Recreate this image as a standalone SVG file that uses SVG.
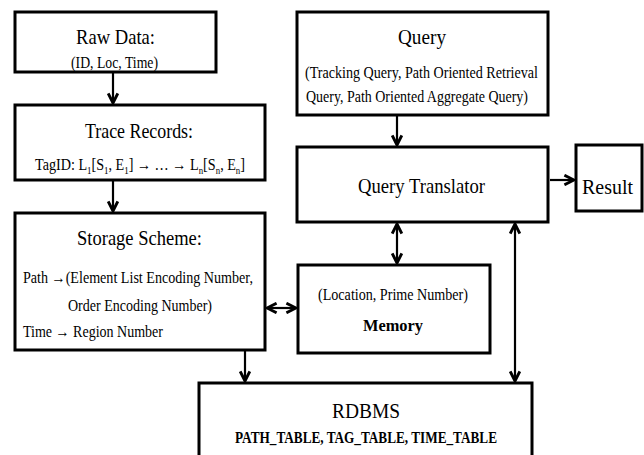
<svg xmlns="http://www.w3.org/2000/svg" width="644" height="455" viewBox="0 0 644 455">
<defs>
<style>
.box{fill:#fff;stroke:#000;stroke-width:3}
.big{font-size:22px}
.sm{font-size:16px}
.b{font-weight:bold}
.c{stroke:#000;stroke-width:2.2;fill:none}
</style>
<marker id="ah" markerUnits="userSpaceOnUse" markerWidth="12" markerHeight="12" viewBox="0 0 10 10" refX="9" refY="5" orient="auto-start-reverse">
<path d="M1,1 L9,5 L1,9" fill="none" stroke="#000" stroke-width="2.4"/>
</marker>
</defs>
<rect width="644" height="455" fill="#fff"/>
<g id="connectors">
<line class="c" x1="113" y1="73" x2="113" y2="103" marker-end="url(#ah)"/>
<line class="c" x1="113" y1="181" x2="113" y2="211" marker-end="url(#ah)"/>
<line class="c" x1="245" y1="351" x2="245" y2="381" marker-end="url(#ah)"/>
<line class="c" x1="267" y1="308" x2="296" y2="308" marker-start="url(#ah)" marker-end="url(#ah)"/>
<line class="c" x1="397" y1="116" x2="397" y2="145" marker-end="url(#ah)"/>
<line class="c" x1="397" y1="224" x2="397" y2="263" marker-start="url(#ah)" marker-end="url(#ah)"/>
<line class="c" x1="515" y1="224" x2="515" y2="381" marker-start="url(#ah)" marker-end="url(#ah)"/>
<line class="c" x1="550" y1="180" x2="574" y2="180" marker-end="url(#ah)"/>
</g>
<g font-family="Times New Roman, Liberation Serif, Tinos, DejaVu Serif, Noto Serif, serif" fill="#000">
<g id="raw">
<rect class="box" x="15" y="12" width="201" height="60"/>
<text class="big" x="76" y="44" textLength="79" lengthAdjust="spacingAndGlyphs">Raw Data:</text>
<text class="sm" x="71" y="68" textLength="87" lengthAdjust="spacingAndGlyphs">(ID, Loc, Time)</text>
</g>
<g id="trace">
<rect class="box" x="15" y="105" width="250" height="75"/>
<text class="big" x="85" y="138" textLength="108" lengthAdjust="spacingAndGlyphs">Trace Records:</text>
<text class="sm" x="35" y="170" textLength="210" lengthAdjust="spacingAndGlyphs">TagID: L<tspan font-size="10" baseline-shift="-4">1</tspan>[S<tspan font-size="10" baseline-shift="-4">1</tspan>, E<tspan font-size="10" baseline-shift="-4">1</tspan>] → … → L<tspan font-size="10" baseline-shift="-4">n</tspan>[S<tspan font-size="10" baseline-shift="-4">n</tspan>, E<tspan font-size="10" baseline-shift="-4">n</tspan>]</text>
</g>
<g id="storage">
<rect class="box" x="15" y="213" width="250" height="137"/>
<text class="big" x="77" y="245" textLength="125" lengthAdjust="spacingAndGlyphs">Storage Scheme:</text>
<text class="sm" x="23" y="283" textLength="230" lengthAdjust="spacingAndGlyphs">Path →(Element List Encoding Number,</text>
<text class="sm" x="68" y="311" textLength="144" lengthAdjust="spacingAndGlyphs">Order Encoding Number)</text>
<text class="sm" x="23" y="337" textLength="140" lengthAdjust="spacingAndGlyphs">Time → Region Number</text>
</g>
<g id="query">
<rect class="box" x="297" y="12" width="251" height="103"/>
<text class="big" x="398" y="44" textLength="48" lengthAdjust="spacingAndGlyphs">Query</text>
<text class="sm" x="305" y="78" textLength="233" lengthAdjust="spacingAndGlyphs">(Tracking Query, Path Oriented Retrieval</text>
<text class="sm" x="306" y="102" textLength="222" lengthAdjust="spacingAndGlyphs">Query, Path Oriented Aggregate Query)</text>
</g>
<g id="translator">
<rect class="box" x="297" y="147" width="251" height="75"/>
<text class="big" x="358" y="193" textLength="127" lengthAdjust="spacingAndGlyphs">Query Translator</text>
</g>
<g id="result">
<rect class="box" x="576" y="145" width="66" height="66"/>
<text class="big" x="582" y="194" textLength="51" lengthAdjust="spacingAndGlyphs">Result</text>
</g>
<g id="memory">
<rect class="box" x="298" y="265" width="192" height="88"/>
<text class="sm" x="318" y="300" textLength="150" lengthAdjust="spacingAndGlyphs">(Location, Prime Number)</text>
<text class="sm b" x="363" y="331" textLength="60" lengthAdjust="spacingAndGlyphs">Memory</text>
</g>
<g id="rdbms">
<rect class="box" x="199" y="383" width="333" height="90"/>
<text class="big" x="332" y="418" textLength="68" lengthAdjust="spacingAndGlyphs">RDBMS</text>
<text class="sm b" x="235" y="443" font-size="15" textLength="262" lengthAdjust="spacingAndGlyphs">PATH_TABLE, TAG_TABLE, TIME_TABLE</text>
</g>
</g>
</svg>
